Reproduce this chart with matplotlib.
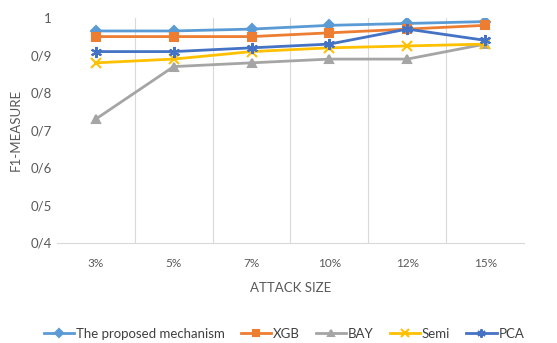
import matplotlib.pyplot as plt
import numpy as np

plt.rcParams["font.family"] = ["Lato", "DejaVu Sans"]

sizes = ["3%", "5%", "7%", "10%", "12%", "15%"]
proposed = [0.965, 0.965, 0.97, 0.98, 0.985, 0.99]
xgb = [0.95, 0.95, 0.95, 0.96, 0.97, 0.98]
bay = [0.73, 0.87, 0.88, 0.89, 0.89, 0.93]
semi = [0.88, 0.89, 0.91, 0.92, 0.925, 0.93]
pca = [0.91, 0.91, 0.92, 0.93, 0.97, 0.94]

yticks = [0.4, 0.5, 0.6, 0.7, 0.8, 0.9, 1.0]
ytick_labels = ["0/4", "0/5", "0/6", "0/7", "0/8", "0/9", "1"]

series = [
    ("The proposed mechanism", proposed, "#5B9BD5", "D", 5),
    ("XGB", xgb, "#ED7D31", "s", 6),
    ("BAY", bay, "#A5A5A5", "^", 6),
    ("Semi", semi, "#FFC000", "x", 7),
    ("PCA", pca, "#4472C4", (6, 2, 0), 8),
]

fig = plt.figure(figsize=(5.57, 3.43), dpi=100)
ax = fig.add_axes([0.102, 0.292, 0.839, 0.656])

x = np.arange(len(sizes))
for name, vals, color, marker, ms in series:
    ax.plot(x, vals, color=color, lw=2, marker=marker, markersize=ms,
            markeredgewidth=1.5, label=name)

ax.set_xlim(-0.5, len(sizes) - 0.5)
ax.set_ylim(0.4, 1.0)
ax.set_yticks(yticks)
ax.set_yticklabels(ytick_labels)
ax.set_xticks(x)
ax.set_xticklabels(sizes)

# category boundaries as vertical gridlines
for b in np.arange(-0.5, len(sizes) + 0.5, 1.0)[1:-1]:
    ax.axvline(b, color="#d9d9d9", lw=0.8, zorder=0)

for s in ["top", "right", "left"]:
    ax.spines[s].set_visible(False)
ax.spines["bottom"].set_color("#d9d9d9")
ax.tick_params(axis="both", length=0, colors="#595959", labelsize=9.5)
ax.tick_params(axis="x", pad=11, labelsize=8.5)

ax.set_xlabel("ATTACK SIZE", color="#595959", fontsize=9.5, labelpad=9)
ax.set_ylabel("F1-MEASURE", color="#595959", fontsize=9.5, labelpad=6)

fig.legend(loc="lower center", bbox_to_anchor=(0.51, -0.025), ncol=5, frameon=False,
           fontsize=9.5, labelcolor="#404040", handlelength=2.3, columnspacing=1.2,
           handletextpad=0.15, markerscale=0.75)

fig.savefig("out.png", dpi=100)
